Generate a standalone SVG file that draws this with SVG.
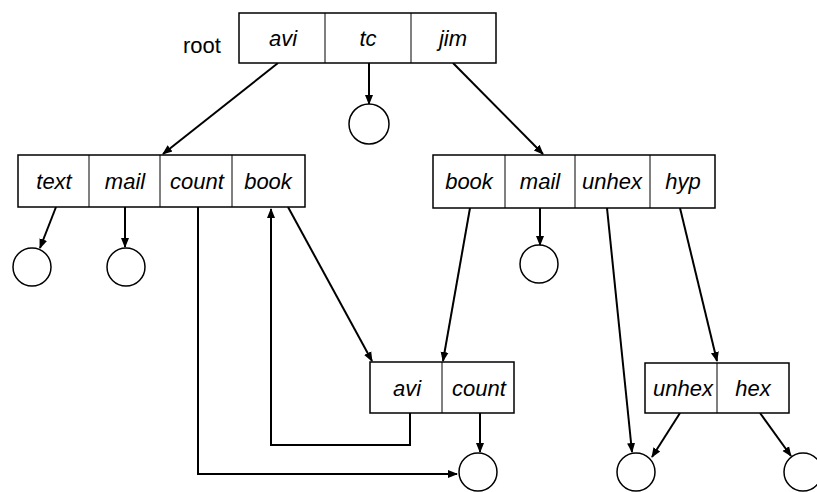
<svg xmlns="http://www.w3.org/2000/svg" width="817" height="492" viewBox="0 0 817 492">
<style>
.box{fill:#fff;stroke:#000;stroke-width:1.5}
.div{stroke:#000;stroke-width:1}
.lbl{font-family:"Liberation Sans",Arial,sans-serif;font-size:22px;font-style:italic;text-anchor:middle;fill:#000}
.root{font-family:"Liberation Sans",Arial,sans-serif;font-size:22px;fill:#000}
.leaf{fill:#fff;stroke:#000;stroke-width:1.5}
.c{fill:none;stroke:#000;stroke-width:2}
</style>
<defs>
<marker id="ah" viewBox="0 0 10 10" refX="9" refY="5" markerWidth="10" markerHeight="10" markerUnits="userSpaceOnUse" orient="auto">
<path d="M0,1 L10,5 L0,9 Z" fill="#000"/>
</marker>
</defs>
<g id="connectors">
<line class="c" x1="278" y1="63" x2="163" y2="154" marker-end="url(#ah)"/>
<line class="c" x1="369" y1="63" x2="369" y2="104" marker-end="url(#ah)"/>
<line class="c" x1="453" y1="63" x2="543" y2="154" marker-end="url(#ah)"/>
<line class="c" x1="56" y1="207" x2="40" y2="248" marker-end="url(#ah)"/>
<line class="c" x1="125" y1="207" x2="125" y2="247" marker-end="url(#ah)"/>
<polyline class="c" points="198,207 198,474 457,474" marker-end="url(#ah)"/>
<line class="c" x1="288" y1="207" x2="372" y2="361" marker-end="url(#ah)"/>
<polyline class="c" points="410,413 410,445 271,445 271,209" marker-end="url(#ah)"/>
<line class="c" x1="480" y1="413" x2="480" y2="452" marker-end="url(#ah)"/>
<line class="c" x1="470" y1="208" x2="443" y2="361" marker-end="url(#ah)"/>
<line class="c" x1="540" y1="208" x2="540" y2="245" marker-end="url(#ah)"/>
<line class="c" x1="607" y1="208" x2="632" y2="452" marker-end="url(#ah)"/>
<line class="c" x1="680" y1="208" x2="717" y2="361" marker-end="url(#ah)"/>
<line class="c" x1="680" y1="413" x2="652" y2="457" marker-end="url(#ah)"/>
<line class="c" x1="760" y1="413" x2="791" y2="456" marker-end="url(#ah)"/>
</g>
<g id="root">
<text class="root" x="183" y="53">root</text>
<rect class="box" x="239" y="13" width="257" height="50"/>
<line class="div" x1="325" y1="13" x2="325" y2="63"/>
<line class="div" x1="411" y1="13" x2="411" y2="63"/>
<text class="lbl" x="283" y="46">avi</text>
<text class="lbl" x="368" y="46">tc</text>
<text class="lbl" x="453" y="46">jim</text>
</g>
<g id="dir-avi">
<rect class="box" x="18" y="155" width="287" height="52"/>
<line class="div" x1="89" y1="155" x2="89" y2="207"/>
<line class="div" x1="160" y1="155" x2="160" y2="207"/>
<line class="div" x1="232" y1="155" x2="232" y2="207"/>
<text class="lbl" x="54" y="189">text</text>
<text class="lbl" x="125" y="189">mail</text>
<text class="lbl" x="197" y="189">count</text>
<text class="lbl" x="268" y="189">book</text>
</g>
<g id="dir-jim">
<rect class="box" x="433" y="155" width="282" height="53"/>
<line class="div" x1="505" y1="155" x2="505" y2="208"/>
<line class="div" x1="575" y1="155" x2="575" y2="208"/>
<line class="div" x1="650" y1="155" x2="650" y2="208"/>
<text class="lbl" x="469" y="189">book</text>
<text class="lbl" x="540" y="189">mail</text>
<text class="lbl" x="612" y="189">unhex</text>
<text class="lbl" x="683" y="189">hyp</text>
</g>
<g id="dir-book">
<rect class="box" x="370" y="362" width="144" height="51"/>
<line class="div" x1="442" y1="362" x2="442" y2="413"/>
<text class="lbl" x="407" y="396">avi</text>
<text class="lbl" x="479" y="396">count</text>
</g>
<g id="dir-hyp">
<rect class="box" x="645" y="363" width="144" height="50"/>
<line class="div" x1="717" y1="363" x2="717" y2="413"/>
<text class="lbl" x="683" y="396">unhex</text>
<text class="lbl" x="753" y="396">hex</text>
</g>
<g id="leaf-tc"><circle class="leaf" cx="369" cy="124" r="20"/></g>
<g id="leaf-text"><circle class="leaf" cx="32" cy="267" r="19"/></g>
<g id="leaf-mail"><circle class="leaf" cx="126" cy="267" r="19"/></g>
<g id="leaf-jim-mail"><circle class="leaf" cx="539" cy="264" r="19"/></g>
<g id="leaf-count"><circle class="leaf" cx="478" cy="472" r="19"/></g>
<g id="leaf-unhex"><circle class="leaf" cx="636" cy="472" r="19"/></g>
<g id="leaf-hex"><circle class="leaf" cx="803" cy="472" r="19"/></g>
</svg>
